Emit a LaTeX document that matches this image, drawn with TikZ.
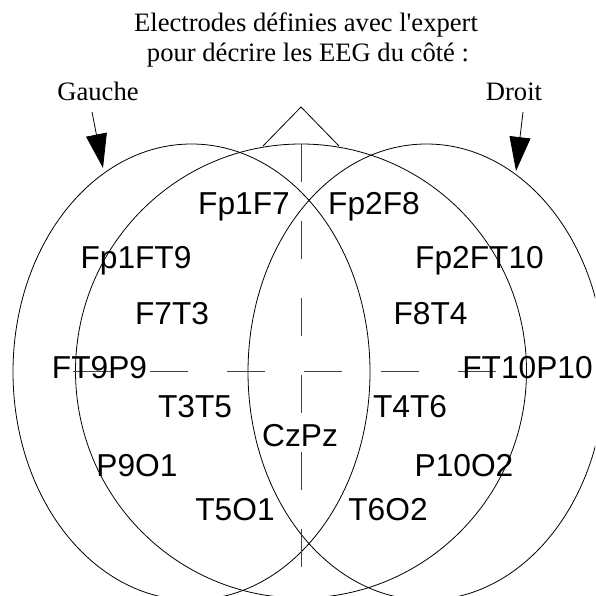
\documentclass[tikz,border=0pt]{standalone}
\usepackage{fontspec}
\setmainfont{Liberation Serif}
\newfontfamily\elecfont{Liberation Sans}
\usetikzlibrary{arrows.meta}
\begin{document}
\begin{tikzpicture}[x=1pt,y=-1pt,
  outline/.style={draw=black, line width=0.8pt},
  axisline/.style={draw=black!75, line width=0.9pt, dash pattern=on 38pt off 39pt},
  elec/.style={font=\elecfont\fontsize{31.7}{38}\selectfont, inner sep=0pt, anchor=base},
  caption/.style={font=\fontsize{26.6}{32}\selectfont, inner sep=0pt, anchor=base},
  pointer/.style={draw=black, line width=0.8pt, -{Triangle[width=21pt,length=34pt]}}
]
\useasboundingbox (0,0) rectangle (595,596);

% head outline and the two hemisphere regions
\begin{scope}
  \clip (0,0) rectangle (595,596);
  \draw[outline] (301,371) ellipse [x radius=225.5pt, y radius=227pt];
  \draw[outline] (191.5,372) ellipse [x radius=178.5pt, y radius=228pt];
  \draw[outline] (426.5,372) ellipse [x radius=178.5pt, y radius=228pt];
\end{scope}

% nose
\coordinate (noseL) at (263,146);
\coordinate (noseT) at (301,107);
\coordinate (noseR) at (339,146);
\draw[outline] (noseL) -- (noseT) -- (noseR);

% midline axes
\coordinate (axN) at (301,144);
\coordinate (axS) at (301,598);
\coordinate (axW) at (73,371);
\coordinate (axE) at (527,371);
\draw[axisline] (axN) -- (axS);
\draw[axisline] (axW) -- (axE);

% captions
\node[caption] (title1) at (306,32) {Electrodes définies avec l\textquotesingle expert};
\node[caption] (title2) at (308,62) {pour décrire les EEG du côté :};
\node[caption] (gauche) at (98,101) {Gauche};
\node[caption] (droit) at (514,101) {Droit};

% pointers to the left and right regions
\coordinate (gStart) at (92,112);
\coordinate (gTip) at (103,168);
\coordinate (dStart) at (523,112);
\coordinate (dTip) at (516,171);
\draw[pointer] (gStart) -- (gTip);
\draw[pointer] (dStart) -- (dTip);

% electrode pairs
\node[elec] (fp1f7)   at (244,214) {Fp1F7};
\node[elec] (fp2f8)   at (374,214) {Fp2F8};
\node[elec] (fp1ft9)  at (136,268) {Fp1FT9};
\node[elec] (fp2ft10) at (479.5,268) {Fp2FT10};
\node[elec] (f7t3)    at (172,324) {F7T3};
\node[elec] (f8t4)    at (430.5,324) {F8T4};
\node[elec] (ft9p9)   at (99.5,378) {FT9P9};
\node[elec] (ft10p10) at (527.5,378) {FT10P10};
\node[elec] (t3t5)    at (195,417) {T3T5};
\node[elec] (t4t6)    at (410,417) {T4T6};
\node[elec] (czpz)    at (300,446) {CzPz};
\node[elec] (p9o1)    at (137,476) {P9O1};
\node[elec] (p10o2)   at (464,476) {P10O2};
\node[elec] (t5o1)    at (235,520) {T5O1};
\node[elec] (t6o2)    at (388,520) {T6O2};
\end{tikzpicture}
\end{document}
